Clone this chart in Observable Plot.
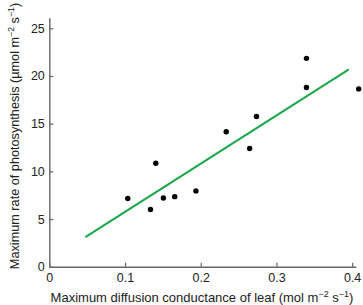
<!DOCTYPE html>
<html>
<head>
<meta charset="utf-8">
<script src="https://cdn.jsdelivr.net/npm/d3@7"></script>
<script src="https://cdn.jsdelivr.net/npm/@observablehq/plot@0.6"></script>
<style>
  html, body { margin: 0; padding: 0; background: #fff; }
  svg { display: block; }
</style>
</head>
<body>
<div id="chart"></div>
<script>
const conductance = [0.103, 0.133, 0.140, 0.150, 0.165, 0.193, 0.233, 0.264, 0.273, 0.339, 0.339, 0.408];
const photosynthesis = [7.2, 6.05, 10.9, 7.25, 7.4, 8.0, 14.2, 12.45, 15.8, 21.9, 18.85, 18.7];
const fitX = [0.048, 0.394];
const fitY = [3.2, 20.7];
const xTicks = [0, 0.1, 0.2, 0.3, 0.4];
const xTickLabels = ["0", "0.1", "0.2", "0.3", "0.4"];
const yTicks = [0, 5, 10, 15, 20, 25];
const yTickLabels = ["0", "5", "10", "15", "20", "25"];

const points = conductance.map((x, i) => ({x, y: photosynthesis[i]}));
const fit = fitX.map((x, i) => ({x, y: fitY[i]}));

const axisColor = "#666";
const font = "'Liberation Sans', Arial, sans-serif";

const chart = Plot.plot({
  width: 363,
  height: 305,
  marginLeft: 49.3,
  marginRight: 6.7,
  marginTop: 18.3,
  marginBottom: 38.3,
  style: {fontFamily: font, fontSize: "12.5px", color: "#222", background: "#fff"},
  x: {domain: [0, 0.4055]},
  y: {domain: [0, 26.05]},
  marks: [
    Plot.axisX({ticks: xTicks, tickFormat: d => xTickLabels[xTicks.indexOf(d)], tickSize: -4, tickPadding: 10, stroke: axisColor, strokeWidth: 1.2, label: null, fill: "#222", fontSize: 12.5}),
    Plot.axisY({ticks: yTicks, tickFormat: d => yTickLabels[yTicks.indexOf(d)], tickSize: -4, tickPadding: 9, stroke: axisColor, strokeWidth: 1.2, label: null, fill: "#222", fontSize: 12.5}),
    Plot.ruleY([0], {stroke: axisColor, strokeWidth: 1.4}),
    Plot.ruleX([0], {stroke: axisColor, strokeWidth: 1.4}),
    Plot.line(fit, {x: "x", y: "y", stroke: "#1aa64b", strokeWidth: 2}),
    Plot.dot(points, {x: "x", y: "y", r: 2.7, fill: "#000"})
  ]
});

document.getElementById("chart").appendChild(chart);

const svg = d3.select(chart);
function addLabel(parts, attrs, size) {
  const t = svg.append("text")
    .attr("font-family", font)
    .attr("font-size", size)
    .attr("fill", "#222");
  for (const [k, v] of Object.entries(attrs)) t.attr(k, v);
  for (const p of parts) {
    const ts = t.append("tspan").text(p.text);
    if (p.sup) ts.attr("font-size", size * 0.69).attr("dy", -5);
    else if (p.after) ts.attr("dy", 5);
  }
}
addLabel([
  {text: "Maximum diffusion conductance of leaf (mol m"},
  {text: "\u22122", sup: true},
  {text: " s", after: true},
  {text: "\u22121", sup: true},
  {text: ")", after: true}
], {x: 202, y: 301.5, "text-anchor": "middle"}, 13);

addLabel([
  {text: "Maximum rate of photosynthesis (\u00b5mol m"},
  {text: "\u22122", sup: true},
  {text: " s", after: true},
  {text: "\u22121", sup: true},
  {text: ")", after: true}
], {transform: "translate(18.5,136) rotate(-90)", "text-anchor": "middle"}, 12.7);
</script>
</body>
</html>
